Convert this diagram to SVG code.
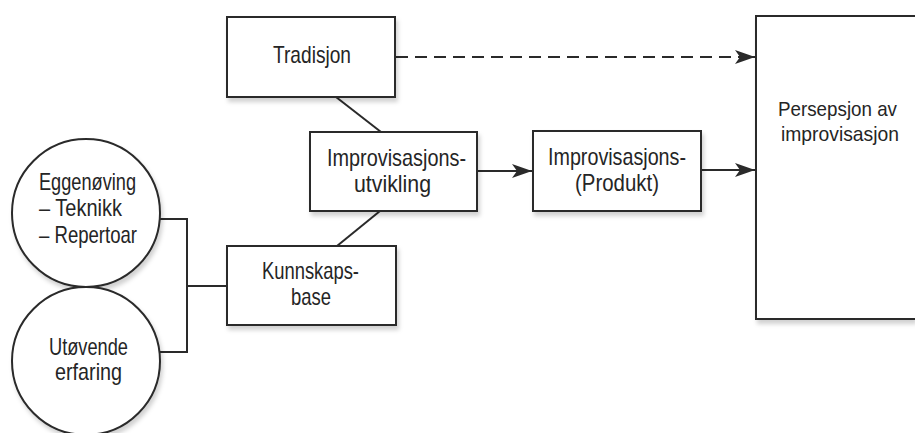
<svg xmlns="http://www.w3.org/2000/svg" width="915" height="433" viewBox="0 0 915 433">
<defs>
<style>
.box{fill:#fff;stroke:#2a2a2a;stroke-width:2;filter:url(#sh)}
.ln{fill:none;stroke:#2a2a2a;stroke-width:2}
.t{font-family:"Liberation Sans",Arial,sans-serif;font-size:24px;fill:#252525}
.s{font-size:21px}
</style>
<filter id="sh" x="-10%" y="-10%" width="125%" height="130%">
<feDropShadow dx="2" dy="4" stdDeviation="2" flood-color="#000" flood-opacity="0.18"/>
</filter>
<marker id="ah" viewBox="0 0 20 14" refX="20" refY="7" markerWidth="20" markerHeight="14" markerUnits="userSpaceOnUse" orient="auto">
<path d="M0,0 L20,7 L0,14 L5,7 Z" fill="#2a2a2a"/>
</marker>
</defs>
<rect width="915" height="433" fill="#fff"/>

<g id="connectors">
<line class="ln" x1="336" y1="97" x2="381" y2="132"/>
<line class="ln" x1="380" y1="211" x2="337" y2="246"/>
<polyline class="ln" points="160,219 187,219 187,352 160,352"/>
<line class="ln" x1="187" y1="286" x2="227" y2="286"/>
<line class="ln" x1="477" y1="171" x2="532" y2="171" marker-end="url(#ah)"/>
<line class="ln" x1="701" y1="170" x2="755" y2="170" marker-end="url(#ah)"/>
<line class="ln" x1="396" y1="57" x2="740" y2="57" stroke-dasharray="12 7"/>
<line class="ln" x1="738" y1="57" x2="755" y2="57" marker-end="url(#ah)"/>
</g>

<g id="tradisjon">
<rect class="box" x="227" y="17" width="168" height="80"/>
<text class="t" x="273" y="63" textLength="78" lengthAdjust="spacingAndGlyphs">Tradisjon</text>
</g>

<g id="improvisasjonsutvikling">
<rect class="box" x="310" y="132" width="167" height="79"/>
<text class="t" x="327" y="166" textLength="139" lengthAdjust="spacingAndGlyphs">Improvisasjons-</text>
<text class="t" x="354" y="192" textLength="77" lengthAdjust="spacingAndGlyphs">utvikling</text>
</g>

<g id="kunnskapsbase">
<rect class="box" x="227" y="246" width="169" height="79"/>
<text class="t" x="262" y="279" textLength="97" lengthAdjust="spacingAndGlyphs">Kunnskaps-</text>
<text class="t" x="291" y="305" textLength="40" lengthAdjust="spacingAndGlyphs">base</text>
</g>

<g id="produkt">
<rect class="box" x="533" y="131" width="168" height="80"/>
<text class="t" x="548" y="165" textLength="138" lengthAdjust="spacingAndGlyphs">Improvisasjons-</text>
<text class="t" x="575" y="191" textLength="84" lengthAdjust="spacingAndGlyphs">(Produkt)</text>
</g>

<g id="persepsjon">
<path class="box" d="M915,16 H756 V319 H915"/>
<text class="t s" x="778" y="116" textLength="119" lengthAdjust="spacingAndGlyphs">Persepsjon av</text>
<text class="t s" x="781" y="141" textLength="118" lengthAdjust="spacingAndGlyphs">improvisasjon</text>
</g>

<g id="eggenoving">
<circle class="box" cx="86" cy="213" r="74"/>
<text class="t" x="39" y="190" textLength="97" lengthAdjust="spacingAndGlyphs">Eggenøving</text>
<text class="t" x="39" y="216" textLength="83" lengthAdjust="spacingAndGlyphs">– Teknikk</text>
<text class="t" x="39" y="243" textLength="98" lengthAdjust="spacingAndGlyphs">– Repertoar</text>
</g>

<g id="utovende">
<circle class="box" cx="86" cy="361" r="74"/>
<text class="t" x="49" y="355" textLength="79" lengthAdjust="spacingAndGlyphs">Utøvende</text>
<text class="t" x="55" y="380" textLength="67" lengthAdjust="spacingAndGlyphs">erfaring</text>
</g>
</svg>
